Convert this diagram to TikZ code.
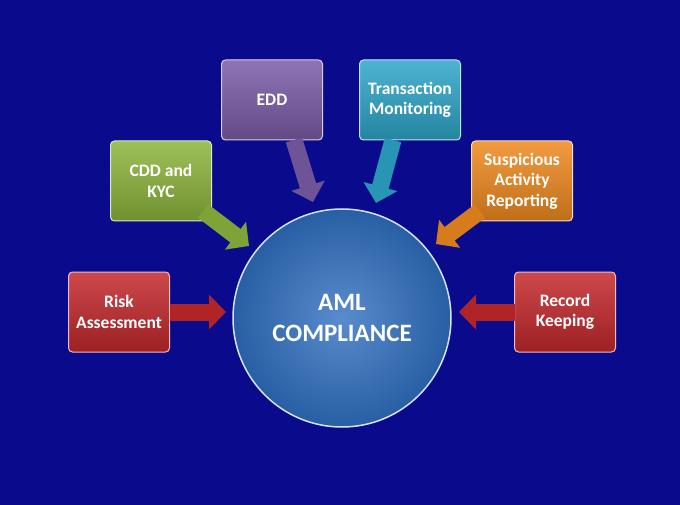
\documentclass[tikz,border=0pt]{standalone}
\usepackage{fontspec}
\setmainfont{Carlito}
\usetikzlibrary{arrows.meta,shadings}
\definecolor{bg}{HTML}{0A0A8C}
\definecolor{cred}{HTML}{C4282C}
\definecolor{cgreen}{HTML}{8DB53C}
\definecolor{cpurple}{HTML}{7B5CA8}
\definecolor{cteal}{HTML}{2EA6C9}
\definecolor{corange}{HTML}{EF8A1F}
\definecolor{ccirc}{HTML}{2F6FC0}
\begin{document}
\begin{tikzpicture}[x=1pt,y=-1pt,
 box/.style={draw=white!70!#1,line width=1pt,rounded corners=4pt,minimum width=101pt,minimum height=80pt,
   top color=#1!85!white,bottom color=#1!80!black,text=white,font=\bfseries\fontsize{17.5}{20.5}\selectfont,align=center,inner sep=2pt},
 arr/.style={line width=17pt,draw=#1!90!black,-{Triangle[length=17pt,width=34pt]}}]
\fill[bg] (0,0) rectangle (680,505);
\useasboundingbox (0,0) rectangle (680,505);
\node[circle,minimum size=218pt,draw=white!80!ccirc,line width=1.5pt,inner color=ccirc!80!white,outer color=ccirc!85!black,
  text=white,font=\bfseries\fontsize{25}{31}\selectfont,align=center] (c) at (342,318) {AML\\COMPLIANCE};
\node[box=cred] (ra) at (119,312) {Risk\\Assessment};
\node[box=cgreen] (cdd) at (161,181) {CDD and\\KYC};
\node[box=cpurple] (edd) at (272,100) {EDD};
\node[box=cteal] (tm) at (410,100) {Transaction\\Monitoring};
\node[box=corange] (sar) at (522,181) {Suspicious\\Activity\\Reporting};
\node[box=cred] (rk) at (565,312) {Record\\Keeping};
\coordinate (a1s) at (170,312); \coordinate (a1e) at (226,312);
\coordinate (a2s) at (203,211); \coordinate (a2e) at (249,246);
\coordinate (a3s) at (294,140); \coordinate (a3e) at (313,202);
\coordinate (a4s) at (393,140); \coordinate (a4e) at (376,203);
\coordinate (a5s) at (480,211); \coordinate (a5e) at (436,244);
\coordinate (a6s) at (515,312); \coordinate (a6e) at (459,312);
\draw[arr=cred] (a1s) -- (a1e);
\draw[arr=cgreen] (a2s) -- (a2e);
\draw[arr=cpurple] (a3s) -- (a3e);
\draw[arr=cteal] (a4s) -- (a4e);
\draw[arr=corange] (a5s) -- (a5e);
\draw[arr=cred] (a6s) -- (a6e);
\end{tikzpicture}
\end{document}
